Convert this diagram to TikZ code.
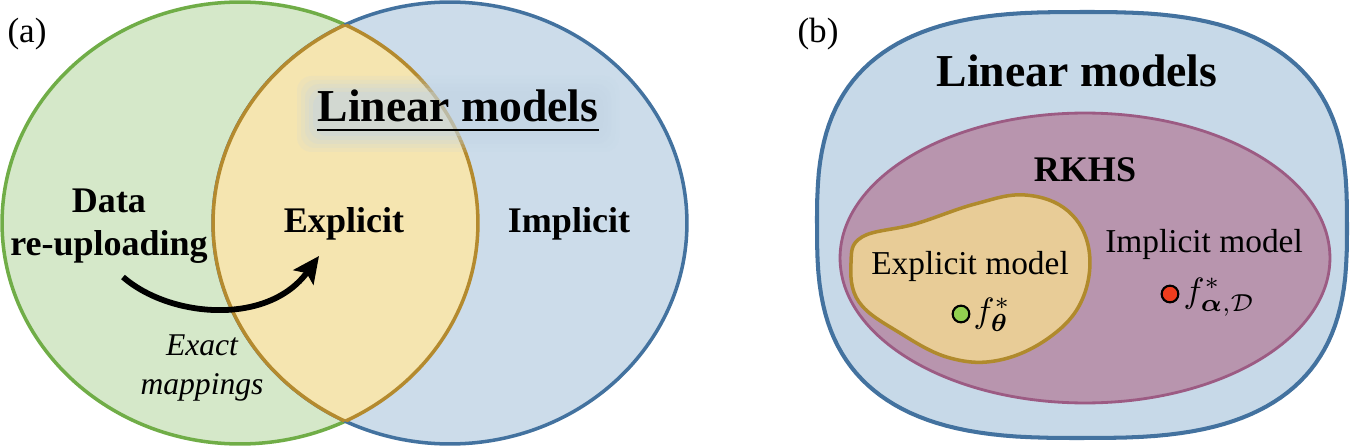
\documentclass[tikz,border=0pt]{standalone}
\usepackage{amsmath}
\usepackage{fontspec}
\setmainfont{Liberation Serif}[ItalicFont={Liberation Serif Italic}, BoldFont={Liberation Serif Bold}]
\usetikzlibrary{arrows.meta}
\definecolor{gfill}{HTML}{D5E8C9}
\definecolor{gline}{HTML}{70AD47}
\definecolor{bfill}{HTML}{CCDCEA}
\definecolor{bline}{HTML}{43729F}
\definecolor{yfill}{HTML}{F5E5B0}
\definecolor{yline}{HTML}{B48A2E}
\definecolor{ofill}{HTML}{C7D9E8}
\definecolor{pfill}{HTML}{B895AE}
\definecolor{pline}{HTML}{9C5B83}
\definecolor{efill}{HTML}{E8CC97}
\definecolor{eline}{HTML}{B08A2C}
\definecolor{glow}{HTML}{C3D4E3}
\definecolor{dotg}{HTML}{92D050}
\definecolor{dotr}{HTML}{F03C1E}
\tikzset{
  panel/.style={font=\fontsize{20}{24}\selectfont, inner sep=0pt, anchor=base},
  title/.style={font=\fontsize{26}{30}\selectfont\bfseries, inner sep=0pt, anchor=base},
  blab/.style={font=\fontsize{20.5}{24.5}\selectfont\bfseries, inner sep=0pt, anchor=base},
  mlab/.style={font=\fontsize{19}{23}\selectfont, inner sep=0pt, anchor=base},
  mathlab/.style={inner sep=0pt, anchor=base west, scale=2},
  dot/.style={circle, draw=black, line width=1.2pt, minimum size=9.5pt, inner sep=0pt},
  vline/.style={line width=2pt}
}
\begin{document}
\begin{tikzpicture}[x=0.02cm, y=-0.02cm]
\useasboundingbox (0,0) rectangle (1350,446);
% ---------- panel (a) ----------
\def\green{(240,223) ellipse [x radius=4.76cm, y radius=4.42cm]}
\def\blue{(450,223) ellipse [x radius=4.74cm, y radius=4.42cm]}
\fill[gfill] \green;
\draw[gline, vline] \green;
\fill[bfill] \blue;
\draw[bline, vline] \blue;
\begin{scope}
  \clip \green;
  \fill[yfill] \blue;
  \draw[yline, vline] \blue;
\end{scope}
\begin{scope}
  \clip \blue;
  \draw[yline, vline] \green;
\end{scope}
% glow behind title
\foreach \d/\o in {16/0.12, 12/0.14, 8/0.18, 4/0.22, 0/0.3}
  \fill[glow, opacity=\o, rounded corners=8pt] (313-\d,92-\d) rectangle (603+\d,136+\d);
\node[panel] (la) at (27,43) {(a)};
\node[title] (lin) at (458,122) {Linear models};
\draw[line width=1.6pt] ([yshift=-4.6pt]lin.base west) -- ([yshift=-4.6pt]lin.base east);
\node[font=\fontsize{20.5}{24.5}\selectfont\bfseries, inner sep=0pt, align=center] (data) at (109,226) {Data\\re-uploading};
\node[blab] (expl) at (344,233) {Explicit};
\node[blab] (impl) at (569,233) {Implicit};
\node[align=center, font=\fontsize{18}{22}\selectfont\itshape, inner sep=0pt] (exact) at (202,368) {Exact\\mappings};
\coordinate (arrS) at (123,277);
\coordinate (arrE) at (319,256);
\draw[line width=3.3pt, -{Stealth[length=15pt, width=14pt, inset=3pt]}] (arrS) .. controls (170,318) and (268,326) .. (arrE);
% ---------- panel (b) ----------
\draw[bline, line width=2.3pt, fill=ofill]
  plot[domain=0.5:360.5, samples=145] ({1082+265*sign(cos(\x))*pow(abs(cos(\x)),0.714)}, {225+213*sign(sin(\x))*pow(abs(sin(\x)),0.714)}) -- cycle;
\draw[pline, line width=1.6pt, fill=pfill] (1085,258) ellipse [x radius=4.9cm, y radius=2.9cm];
\draw[eline, line width=2pt, fill=efill] plot[smooth cycle, tension=0.65] coordinates {
  (851,263) (862,237) (915,224) (975,204) (1025,195) (1068,211) (1089,250)
  (1082,300) (1050,337) (1000,360) (950,358) (900,333) (859,302)};
\node[panel] (lb) at (818,43) {(b)};
\node[title] (lin2) at (1077,87) {Linear models};
\node[blab] (rkhs) at (1085,182) {RKHS};
\node[mlab] (emod) at (970,275) {Explicit model};
\node[mlab] (imod) at (1204,253) {Implicit model};
\node[dot, fill=dotg] (gdot) at (961,314) {};
\node[mathlab] (fth) at (973,322) {$f^{*}_{\boldsymbol{\theta}}$};
\node[dot, fill=dotr] (rdot) at (1170,294) {};
\node[mathlab] (fal) at (1183,302) {$f^{*}_{\boldsymbol{\alpha},\mathcal{D}}$};
\end{tikzpicture}
\end{document}
